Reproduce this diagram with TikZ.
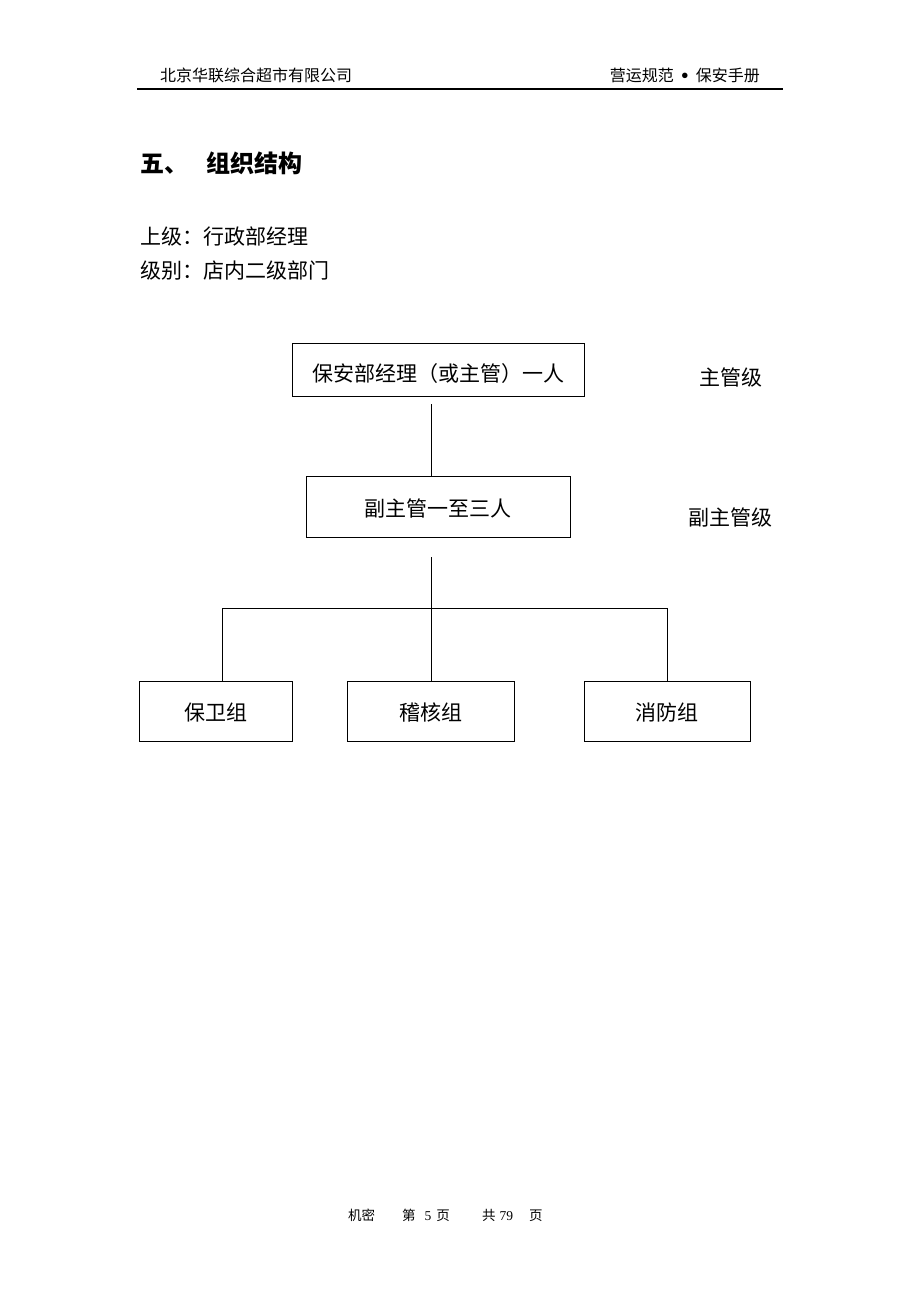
\documentclass[tikz,border=0pt]{standalone}
\usepackage{fontspec}
\setmainfont{Noto Sans CJK SC}
\newfontfamily\latinserif{Liberation Serif}
\usepackage{xcolor}
\usepackage{tikz}
\usetikzlibrary{positioning}

\begin{document}
\begin{tikzpicture}[x=1pt, y=-1pt,
	orgbox/.style={draw, line width=1pt, inner sep=0pt, text depth=0pt, text height=18pt, font=\fontsize{21}{21}\selectfont},
	plain/.style={inner sep=0pt, font=\fontsize{21}{21}\selectfont},
	link/.style={line width=0.9pt}]
	\useasboundingbox (0,0) rectangle (920,1302);
	\fill[white] (0,0) rectangle (920,1302);

	% header
	\node[plain, anchor=base west, font=\fontsize{16}{16}\selectfont] (company) at (160,81) {北京华联综合超市有限公司};
	\node[plain, anchor=base east, font=\fontsize{16}{16}\selectfont] (manual) at (760,81) {营运规范\hspace{7pt}\raisebox{-2pt}{\latinserif\fontsize{23}{23}\selectfont\textbullet}\hspace{7pt}保安手册};
	\coordinate (rulel) at (137,89);
	\coordinate (ruler) at (783,89);
	\draw[line width=1.5pt] (rulel) -- (ruler);

	% title and text
	\node[plain, anchor=base west, font=\fontsize{24}{24}\selectfont\bfseries] (title) at (140,172) {五、\hspace{18pt}组织结构};
	\node[plain, anchor=base west] (upper) at (140,244) {上级：行政部经理};
	\node[plain, anchor=base west] (rank) at (140,278) {级别：店内二级部门};

	% boxes
	\node[orgbox, text height=24pt, minimum width=292pt, minimum height=53pt] (mgr) at (438,369.5) {保安部经理（或主管）一人};
	\node[orgbox, text height=19pt, minimum width=264pt, minimum height=61pt] (dep) at (438,506.5) {副主管一至三人};
	\node[orgbox, minimum width=153pt, minimum height=60pt] (guard) at (215.5,711) {保卫组};
	\node[orgbox, minimum width=167pt, minimum height=60pt] (audit) at (430.5,711) {稽核组};
	\node[orgbox, minimum width=166pt, minimum height=60pt] (fire) at (667,711) {消防组};

	\node[plain] (lvl1) at (731,377) {主管级};
	\node[plain] (lvl2) at (730,517) {副主管级};

	% connectors
	\coordinate (top1) at (431,404);
	\coordinate (top2) at (431,557);
	\coordinate (fork) at (431,608);
	\coordinate (lfork) at (222,608);
	\coordinate (rfork) at (667,608);
	\draw[link] (top1) -- (top1 |- dep.north);
	\draw[link] (top2) -- (fork);
	\draw[link] (lfork) -- (rfork);
	\draw[link] (lfork) -- (lfork |- guard.north);
	\draw[link] (fork) -- (fork |- audit.north);
	\draw[link] (rfork) -- (rfork |- fire.north);

	% footer
	\node[plain, anchor=base west, font=\fontsize{13.5}{13.5}\selectfont] (foot1) at (348,1220) {机密};
	\node[plain, anchor=base west, font=\fontsize{13.5}{13.5}\selectfont] (foot2) at (402,1220) {第\hspace{9pt}{\latinserif 5}\hspace{5pt}页};
	\node[plain, anchor=base west, font=\fontsize{13.5}{13.5}\selectfont] (foot3) at (482,1220) {共\hspace{4pt}{\latinserif 79}\hspace{16pt}页};
\end{tikzpicture}
\end{document}
